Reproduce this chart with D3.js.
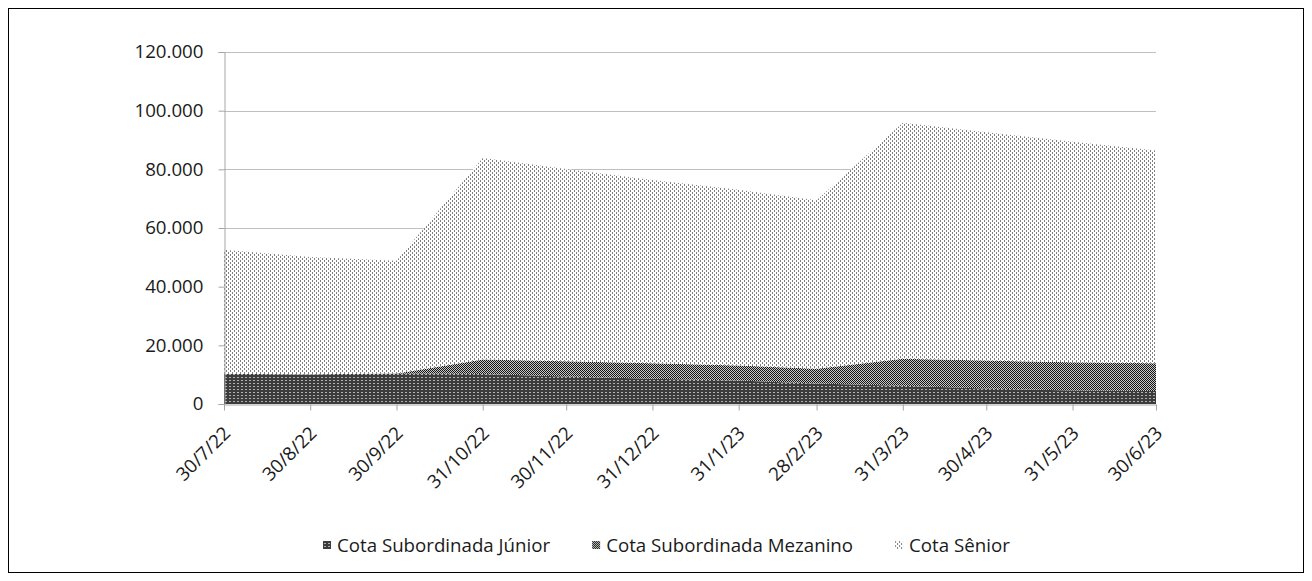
<!DOCTYPE html>
<html>
<head>
<meta charset="utf-8">
<script src="https://cdn.jsdelivr.net/npm/d3@7"></script>
<style>
    body { margin: 0; background: #fff; }
    #chart-container { position: relative; }
    text { font-family: "Open Sans", "Noto Sans", sans-serif; fill: #1a1a1a; }
</style>
</head>
<body>
<div id="chart-container"></div>
<script>
// chart values
let dates = ["2022-07-30", "2022-08-30", "2022-09-30", "2022-10-31", "2022-11-30", "2022-12-31",
             "2023-01-31", "2023-02-28", "2023-03-31", "2023-04-30", "2023-05-31", "2023-06-30"];
let juniorValues   = [10300, 10100, 10400, 10200, 9400, 8600, 8000, 7000, 6200, 5300, 4600, 4400];
let mezaninoValues = [0, 0, 0, 5000, 5200, 5300, 5100, 5000, 9200, 9500, 9600, 9500];
let seniorValues   = [42300, 40000, 38400, 68700, 65500, 62500, 59900, 57500, 80500, 77800, 75200, 72500];
let seriesNames = ["Cota Subordinada Júnior", "Cota Subordinada Mezanino", "Cota Sênior"];
let yTicks = [0, 20000, 40000, 60000, 80000, 100000, 120000];
let xTickLabels = ["30/7/22", "30/8/22", "30/9/22", "31/10/22", "30/11/22", "31/12/22",
                   "31/1/23", "28/2/23", "31/3/23", "30/4/23", "31/5/23", "30/6/23"];

let W = 1312, H = 581;
let margin = {top: 52, right: 156, bottom: 177, left: 224},
    width = W - margin.left - margin.right,
    height = H - margin.top - margin.bottom;
let fontSize = "18.7px";

let parseDate = d3.timeParse("%Y-%m-%d");
let keys = ["junior", "mezanino", "senior"];
let rows = dates.map((d, i) => ({
    date: parseDate(d),
    junior: juniorValues[i],
    mezanino: mezaninoValues[i],
    senior: seniorValues[i]
}));

let svg = d3.select("#chart-container")
    .append("svg")
    .attr("width", W)
    .attr("height", H);

// patterns that imitate the excel pattern fills
let defs = svg.append("defs");
function addPattern(id, w, h, bg, rects) {
    let p = defs.append("pattern")
        .attr("id", id)
        .attr("patternUnits", "userSpaceOnUse")
        .attr("width", w)
        .attr("height", h);
    p.append("rect").attr("width", w).attr("height", h).attr("fill", bg);
    rects.forEach(r => {
        p.append("rect")
            .attr("x", r[0]).attr("y", r[1])
            .attr("width", r[2]).attr("height", r[3])
            .attr("fill", r[4]);
    });
}
addPattern("p-junior", 4, 3, "#3c3c3c", [[1, 1, 2, 1, "#b0b0b0"]]);
addPattern("p-mezanino", 2, 2, "#c8c8c8", [[0, 0, 1, 1, "#141414"], [1, 1, 1, 1, "#141414"]]);
addPattern("p-senior", 4, 4, "#ffffff", [[0, 0, 1, 2, "#7f7f7f"], [2, 2, 1, 2, "#7f7f7f"]]);
let fills = {junior: "url(#p-junior)", mezanino: "url(#p-mezanino)", senior: "url(#p-senior)"};

// chart frame
svg.append("rect")
    .attr("x", 8.5).attr("y", 8.5)
    .attr("width", W - 17).attr("height", H - 17)
    .attr("fill", "none")
    .attr("stroke", "#000")
    .attr("stroke-width", 1);

let g = svg.append("g")
    .attr("transform", "translate(" + margin.left + "," + margin.top + ")");

let x = d3.scaleTime()
    .domain([rows[0].date, rows[rows.length - 1].date])
    .range([0, width]);
let y = d3.scaleLinear()
    .domain([0, 120000])
    .range([height, 0]);

let locale = d3.formatLocale({decimal: ",", thousands: ".", grouping: [3], currency: ["R$", ""]});
let fmt = locale.format(",.0f");

// gridlines
g.append("g")
    .selectAll("line")
    .data(yTicks.filter(d => d > 0))
    .enter()
    .append("line")
    .attr("x1", 0).attr("x2", width)
    .attr("y1", d => Math.round(y(d)) + 0.5)
    .attr("y2", d => Math.round(y(d)) + 0.5)
    .attr("stroke", "#bfbfbf")
    .attr("stroke-width", 1);

// stacked areas
let stack = d3.stack().keys(keys);
let layers = stack(rows);
let area = d3.area()
    .x(d => x(d.data.date))
    .y0(d => y(d[0]))
    .y1(d => y(d[1]));
g.append("g")
    .selectAll("path")
    .data(layers)
    .enter()
    .append("path")
    .attr("d", area)
    .attr("fill", d => fills[d.key]);

// y axis
let yAxis = d3.axisLeft(y)
    .tickValues(yTicks)
    .tickSize(6)
    .tickPadding(15)
    .tickFormat(fmt);
let yG = g.append("g")
    .attr("class", "yl axis")
    .attr("transform", "translate(0.5,0)")
    .call(yAxis);
yG.select(".domain").attr("stroke", "#a6a6a6");
yG.selectAll(".tick line").attr("stroke", "#a6a6a6");
yG.selectAll(".tick text")
    .style("font-size", fontSize)
    .attr("fill", "#1a1a1a");

// x axis
let xAxis = d3.axisBottom(x)
    .tickValues(rows.map(r => r.date))
    .tickSize(6)
    .tickSizeOuter(0)
    .tickFormat((d, i) => xTickLabels[i]);
let xG = g.append("g")
    .attr("class", "x axis")
    .attr("transform", "translate(0," + (height + 0.5) + ")")
    .call(xAxis);
xG.select(".domain").attr("stroke", "#a6a6a6");
xG.selectAll(".tick line").attr("stroke", "#a6a6a6");
xG.selectAll(".tick text")
    .style("font-size", fontSize)
    .attr("fill", "#1a1a1a")
    .attr("text-anchor", "end")
    .attr("x", 0).attr("y", 0).attr("dy", 0)
    .attr("transform", "translate(7,30) rotate(-45)");

// legend
let legend = svg.append("g");
let items = legend.selectAll("g")
    .data(keys)
    .enter()
    .append("g");
items.append("rect")
    .attr("width", 8).attr("height", 8)
    .attr("y", -4)
    .attr("fill", d => fills[d]);
items.append("text")
    .attr("x", 14)
    .attr("dy", "0.35em")
    .style("font-size", fontSize)
    .text((d, i) => seriesNames[i]);
let gap = 42;
let offsets = [], total = 0;
items.each(function () {
    offsets.push(total);
    total += 14 + this.querySelector("text").getComputedTextLength() + gap;
});
total -= gap;
let legendStart = 323;
items.attr("transform", (d, i) => "translate(" + (legendStart + offsets[i]) + ",545)");
</script>
</body>
</html>
